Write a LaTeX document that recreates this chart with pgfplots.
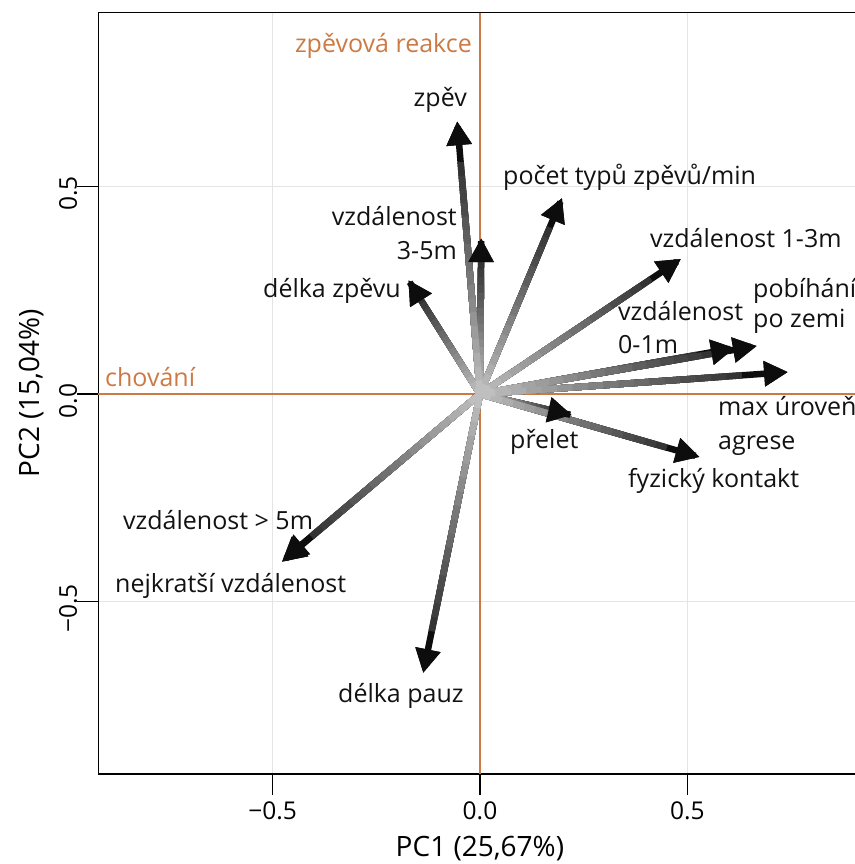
\documentclass[border=0pt]{standalone}
\usepackage{fontspec}
\setmainfont{Open Sans}
\usepackage{pgfplots}
\pgfplotsset{compat=1.18}
\usepackage{pgfplotstable}
\usetikzlibrary{arrows.meta}
\definecolor{orng}{RGB}{204,122,68}
\definecolor{gridc}{RGB}{228,228,228}
\definecolor{tipc}{RGB}{13,13,13}

\pgfplotstableread{
u v
-0.055 0.658
0.198 0.473
0.003 0.376
-0.173 0.275
0.485 0.326
0.668 0.116
0.615 0.111
0.743 0.053
0.222 -0.051
0.530 -0.152
-0.478 -0.405
-0.474 -0.400
-0.137 -0.673
}\pcadata

\newcommand{\gseg}[2]{\addplot[draw=black!#2!white, line width=6.5bp, line cap=butt, -, quiver={u=\thisrow{u}*#1, v=\thisrow{v}*#1}] table[x expr=0, y expr=0] {\pcadata};}
\newcommand{\lbl}[4]{\node[anchor=#1, inner sep=0pt, text=black!93] at (axis cs:{(#2-480)/414.7},{(394-#3)/414.7}) {#4};}

\begin{document}
\begin{tikzpicture}[font=\fontsize{25bp}{29bp}\selectfont]
\begin{axis}[
  name=ax,
  x=414.7bp, y=414.7bp,
  xmin=-0.9204, xmax=0.92, ymin=-0.9163, ymax=0.9195,
  axis line style={line width=1.5bp, black},
  xtick={-0.5,0,0.5}, xticklabels={−0.5,0.0,0.5},
  ytick={-0.5,0,0.5}, yticklabels={−0.5,0.0,0.5},
  xtick pos=bottom, ytick pos=left,
  tick align=outside, major tick length=21bp,
  tick style={line width=1.5bp, black},
  xticklabel style={inner sep=0pt, anchor=north, yshift=-7bp, font=\fontsize{24.5bp}{28bp}\selectfont},
  yticklabel style={inner sep=0pt, rotate=90, anchor=south, xshift=-7bp, font=\fontsize{24.5bp}{28bp}\selectfont},
  grid=major, major grid style={gridc, line width=1.2bp},
  xlabel={PC1 (25,67\%)}, ylabel={PC2 (15,04\%)},
  every axis x label/.style={at={(axis description cs:0.5,-0.109)}, anchor=base, font=\fontsize{28bp}{32bp}\selectfont},
  every axis y label/.style={at={(axis description cs:-0.0764,0.5)}, rotate=90, anchor=base, font=\fontsize{28bp}{32bp}\selectfont},
  clip=false,
]
\addplot[orng, line width=1.6bp] coordinates {(0,-0.9163) (0,0.9195)};
\addplot[orng, line width=1.6bp] coordinates {(-0.9204,0) (0.92,0)};

\addplot[draw=tipc, line width=6.5bp, -{Triangle[length=24bp,width=24bp]}, quiver={u=\thisrow{u}, v=\thisrow{v}}] table[x expr=0, y expr=0] {\pcadata};
\gseg{0.85}{80}
\gseg{0.80}{76}
\gseg{0.75}{73}
\gseg{0.70}{70}
\gseg{0.65}{66}
\gseg{0.60}{63}
\gseg{0.55}{59}
\gseg{0.50}{56}
\gseg{0.45}{53}
\gseg{0.40}{49}
\gseg{0.35}{46}
\gseg{0.30}{42}
\gseg{0.25}{39}
\gseg{0.20}{36}
\gseg{0.15}{32}
\gseg{0.10}{29}
\gseg{0.05}{25}
\addplot[draw=tipc, line width=6.5bp, -{Triangle[length=24bp,width=24bp]}, quiver={u=\thisrow{u}*0.02, v=\thisrow{v}*0.02}] table[x expr=\thisrow{u}*0.98, y expr=\thisrow{v}*0.98] {\pcadata};

\node[anchor=base east, inner sep=0pt, text=orng] at (axis cs:{(472-480)/414.7},{(394-52)/414.7}) {zpěvová reakce};
\node[anchor=base west, inner sep=0pt, text=orng] at (axis cs:{(105-480)/414.7},{(394-386)/414.7}) {chování};

\lbl{base east}{467}{106}{zpěv}
\lbl{base west}{503}{184}{počet typů zpěvů/min}
\lbl{base east}{457}{225}{vzdálenost}
\lbl{base east}{457}{259}{3-5m}
\lbl{base west}{263}{297}{délka zpěvu}
\lbl{base west}{650}{247}{vzdálenost 1-3m}
\lbl{base west}{753}{297}{pobíhání}
\lbl{base west}{753}{327}{po zemi}
\lbl{base west}{618}{320}{vzdálenost}
\lbl{base west}{618}{353}{0-1m}
\lbl{base west}{718}{415}{max úroveň}
\lbl{base west}{718}{449}{agrese}
\lbl{base west}{628}{487}{fyzický kontakt}
\lbl{base west}{510}{448}{přelet}
\lbl{base west}{123}{529}{vzdálenost > 5m}
\lbl{base west}{115}{592}{nejkratší vzdálenost}
\lbl{base west}{338}{702}{délka pauz}
\end{axis}
\pgfresetboundingbox
\path ([shift={(-98.3bp,-90bp)}]ax.south west) rectangle ([shift={(756.7bp,12.7bp)}]ax.north west);
\end{tikzpicture}
\end{document}
